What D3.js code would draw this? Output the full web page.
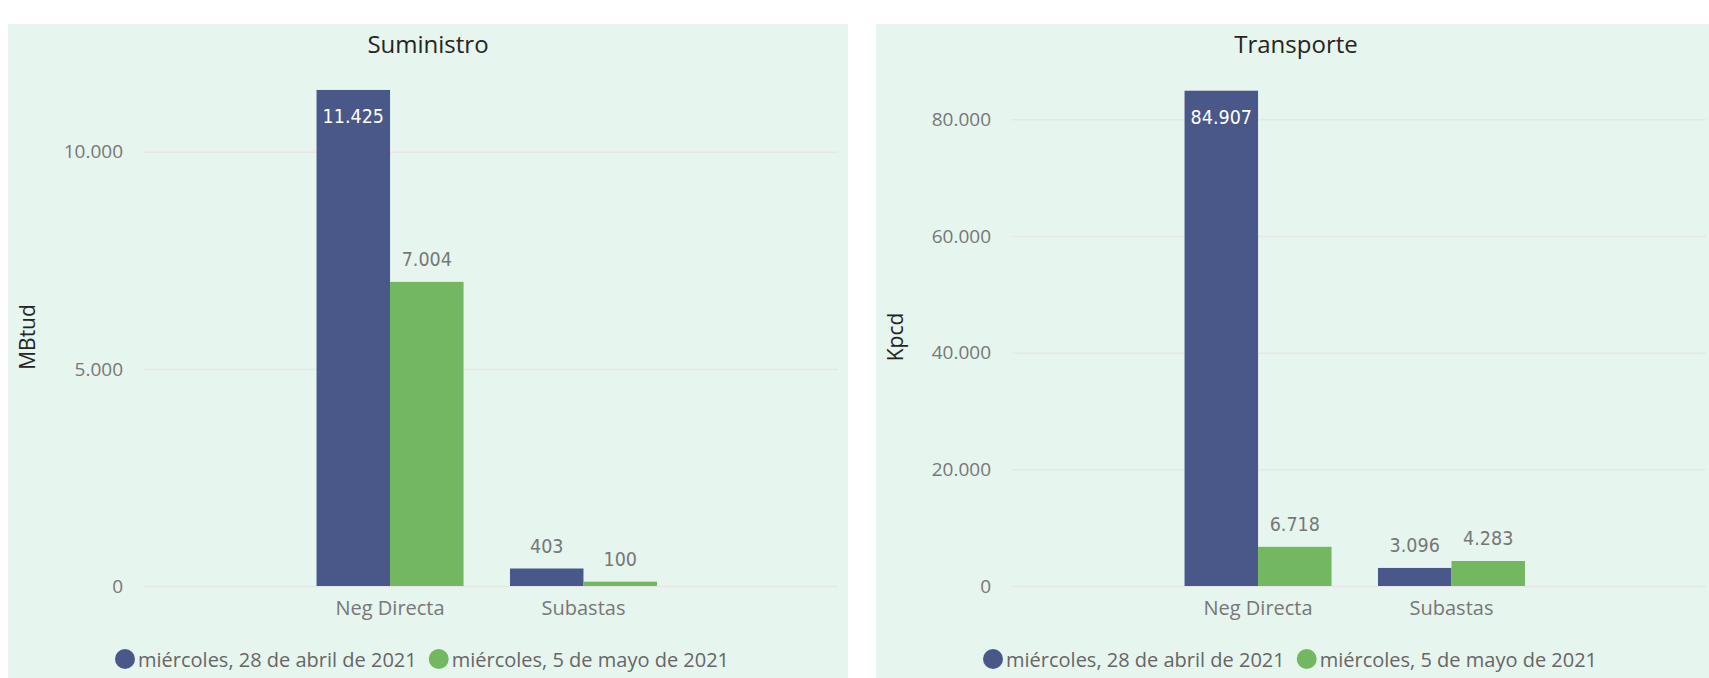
<!DOCTYPE html>
<html>
<head>
<meta charset="utf-8">
<script src="https://cdn.jsdelivr.net/npm/d3@7"></script>
<style>
  body { margin: 0; background: #fff; }
  svg { display: block; }
  .ui { font-family: "Segoe UI", "Open Sans", sans-serif; }
  .lbl { font-family: "DejaVu Sans Condensed", "DejaVu Sans", sans-serif; font-stretch: condensed; }
</style>
</head>
<body>
<svg></svg>
<script>
const categories = ["Neg Directa", "Subastas"];
const seriesNames = ["miércoles, 28 de abril de 2021", "miércoles, 5 de mayo de 2021"];
const colors = ["#4a5889", "#73b761"];

const suministroAbril = [11425, 403];
const suministroMayo = [7004, 100];
const suministroTicks = [0, 5000, 10000];

const transporteAbril = [84907, 3096];
const transporteMayo = [6718, 4283];
const transporteTicks = [0, 20000, 40000, 60000, 80000];

const W = 1709, H = 678;
const svg = d3.select("svg").attr("width", W).attr("height", H);

const fmt = d3.formatLocale({ decimal: ",", thousands: ".", grouping: [3], currency: ["", ""] }).format(",d");

function panel(px, title, yTitle, series, ticks, yMax, yTop) {
	const g = svg.append("g").attr("transform", `translate(${px},0)`);
	g.append("rect").attr("x", 0).attr("y", 24).attr("width", 840).attr("height", H - 24).attr("fill", "#e6f5ee");

	const x = d3.scaleBand().domain(categories).range([136, 830])
		.paddingInner(0.24).paddingOuter(0.914).align(0.488);
	const xs = d3.scaleBand().domain(d3.range(series.length)).range([0, x.bandwidth()]);
	const y = d3.scaleLinear().domain([0, yMax]).range([586, yTop]);

	// grid + tick labels
	const ya = g.append("g").attr("class", "ui").attr("transform", "translate(136,0)")
		.call(d3.axisLeft(y).tickValues(ticks).tickFormat(fmt).tickSize(-694).tickPadding(21));
	ya.select(".domain").remove();
	ya.selectAll("line").attr("stroke", "#e8e6e6").attr("stroke-width", 1.5);
	ya.selectAll("text").attr("fill", "#777").style("font-size", "19px");

	const xa = g.append("g").attr("class", "ui").attr("transform", "translate(0,586)")
		.call(d3.axisBottom(x).tickSize(0).tickPadding(15));
	xa.select(".domain").remove();
	xa.selectAll("text").attr("fill", "#777").style("font-size", "20px");

	// bars
	series.forEach((vals, s) => {
		const bg = g.append("g");
		bg.selectAll("rect").data(vals).join("rect")
			.attr("x", (d, i) => x(categories[i]) + xs(s))
			.attr("y", d => y(d))
			.attr("width", xs.bandwidth())
			.attr("height", d => y(0) - y(d))
			.attr("fill", colors[s]);
		bg.selectAll("text").data(vals).join("text")
			.attr("class", "lbl")
			.attr("x", (d, i) => x(categories[i]) + xs(s) + xs.bandwidth() / 2)
			.attr("y", d => y(d) < 110 ? y(d) + 33 : y(d) - 16)
			.attr("text-anchor", "middle")
			.attr("fill", d => y(d) < 110 ? "#fff" : "#777")
			.style("font-size", "19.5px")
			.text(d => fmt(d));
	});

	g.append("text").attr("class", "ui")
		.attr("x", 420).attr("y", 53).attr("text-anchor", "middle")
		.attr("fill", "#252423").style("font-size", "24px").text(title);

	g.append("text").attr("class", "ui")
		.attr("transform", "translate(27,337) rotate(-90)")
		.attr("text-anchor", "middle").attr("fill", "#252423")
		.style("font-size", "21px").text(yTitle);

	// legend
	let lx = 107;
	seriesNames.forEach((name, s) => {
		g.append("circle").attr("cx", lx + 10).attr("cy", 659).attr("r", 10).attr("fill", colors[s]);
		const t = g.append("text").attr("class", "ui")
			.attr("x", lx + 23).attr("y", 667)
			.attr("fill", "#666").style("font-size", "20px").text(name);
		lx += 23 + t.node().getComputedTextLength() + 12;
	});
}

panel(8, "Suministro", "MBtud", [suministroAbril, suministroMayo], suministroTicks, 12000, 65);
panel(876, "Transporte", "Kpcd", [transporteAbril, transporteMayo], transporteTicks, 90000, 61);
</script>
</body>
</html>
